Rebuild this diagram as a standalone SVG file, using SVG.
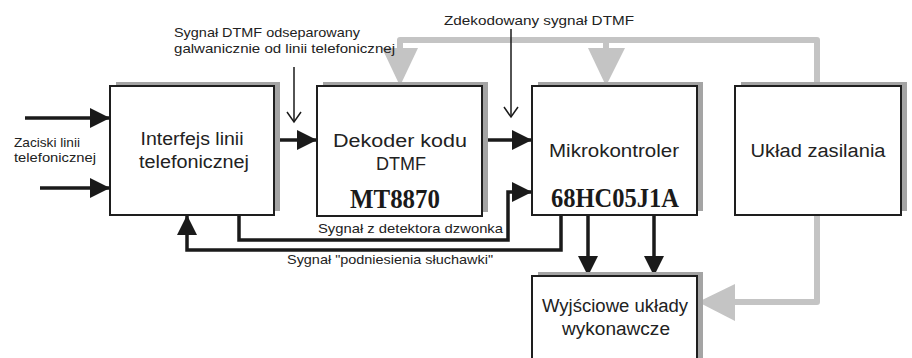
<svg xmlns="http://www.w3.org/2000/svg" width="912" height="358" viewBox="0 0 912 358">
  <style>
    .box { fill: #ffffff; stroke: #1e1e1e; stroke-width: 2; }
    .shadow { fill: #a4a4a4; }
    .wire { fill: none; stroke: #1a1a1a; stroke-width: 3.5; }
    .thin { fill: none; stroke: #1a1a1a; stroke-width: 1.5; }
    .power { fill: none; stroke: #c4c4c4; stroke-width: 6; stroke-linejoin: round; }
    .powerhead { fill: #c4c4c4; }
    .head { fill: #1a1a1a; }
    .title { font-family: "Liberation Sans", Arial, sans-serif; font-size: 18px; fill: #222222; text-anchor: middle; }
    .chip { font-family: "Liberation Serif", "Times New Roman", serif; font-weight: bold; font-size: 27px; fill: #1a1a1a; text-anchor: middle; }
    .label { font-family: "Liberation Sans", Arial, sans-serif; font-size: 13px; fill: #222222; }
  </style>
  <defs>
    <marker id="arrow" markerUnits="userSpaceOnUse" markerWidth="20" markerHeight="20" refX="20" refY="10" orient="auto">
      <path d="M0,0 L20,10 L0,20 Z" class="head"/>
    </marker>
    <marker id="open" markerUnits="userSpaceOnUse" markerWidth="16" markerHeight="16" refX="11" refY="8" orient="auto">
      <path d="M1,1 L11,8 L1,15" fill="none" stroke="#1a1a1a" stroke-width="1.5"/>
    </marker>
  </defs>

  <!-- connectors -->
  <g id="connectors">
    <!-- power distribution (grey) -->
    <path class="power" d="M817,86 V40 H400 V50"/>
    <path class="power" d="M606,40 V50"/>
    <polygon class="powerhead" points="382,48 418,48 400,86"/>
    <polygon class="powerhead" points="588,48 625,48 606,86"/>
    <path class="power" d="M817,215 V302 H733"/>
    <polygon class="powerhead" points="735,284 735,321 698,302"/>

    <!-- line terminals -->
    <path class="wire" d="M25,118 H110" marker-end="url(#arrow)"/>
    <path class="wire" d="M40,188 H110" marker-end="url(#arrow)"/>

    <!-- signal chain -->
    <path class="wire" d="M274,140 H317" marker-end="url(#arrow)"/>
    <path class="wire" d="M482,140 H532" marker-end="url(#arrow)"/>

    <!-- ring detector -->
    <path class="wire" d="M239,215 V240 H508 V192 H532" marker-end="url(#arrow)"/>
    <!-- off-hook -->
    <path class="wire" d="M561,215 V250 H187 V215" marker-end="url(#arrow)"/>

    <!-- outputs -->
    <path class="wire" d="M588,215 V276" marker-end="url(#arrow)"/>
    <path class="wire" d="M654,215 V276" marker-end="url(#arrow)"/>

    <!-- annotation pointers -->
    <path class="thin" d="M294,67 V122" marker-end="url(#open)"/>
    <path class="thin" d="M511,29 V117" marker-end="url(#open)"/>
  </g>

  <!-- nodes -->
  <g id="interface">
    <rect class="shadow" x="116" y="82" width="164" height="129"/>
    <rect class="box" x="110" y="86" width="164" height="129"/>
    <text class="title" x="192" y="145" textLength="103" lengthAdjust="spacingAndGlyphs">Interfejs linii</text>
    <text class="title" x="194" y="168" textLength="110" lengthAdjust="spacingAndGlyphs">telefonicznej</text>
  </g>

  <g id="decoder">
    <rect class="shadow" x="323" y="82" width="165" height="130"/>
    <rect class="box" x="317" y="86" width="165" height="130"/>
    <text class="title" x="400" y="147" textLength="134" lengthAdjust="spacingAndGlyphs">Dekoder kodu</text>
    <text class="title" x="401" y="170" textLength="50" lengthAdjust="spacingAndGlyphs">DTMF</text>
    <text class="chip" x="395" y="208" textLength="90" lengthAdjust="spacingAndGlyphs">MT8870</text>
  </g>

  <g id="mcu">
    <rect class="shadow" x="538" y="82" width="165" height="129"/>
    <rect class="box" x="532" y="86" width="165" height="129"/>
    <text class="title" x="614" y="157" textLength="130" lengthAdjust="spacingAndGlyphs">Mikrokontroler</text>
    <text class="chip" x="615" y="207" textLength="128" lengthAdjust="spacingAndGlyphs">68HC05J1A</text>
  </g>

  <g id="power-supply">
    <rect class="shadow" x="741" y="82" width="166" height="129"/>
    <rect class="box" x="735" y="86" width="166" height="129"/>
    <text class="title" x="818" y="157" textLength="135" lengthAdjust="spacingAndGlyphs">Układ zasilania</text>
  </g>

  <g id="outputs">
    <rect class="shadow" x="538" y="272" width="165" height="100"/>
    <rect class="box" x="532" y="276" width="165" height="100"/>
    <text class="title" x="615" y="312" textLength="146" lengthAdjust="spacingAndGlyphs">Wyjściowe układy</text>
    <text class="title" x="616" y="335" textLength="108" lengthAdjust="spacingAndGlyphs">wykonawcze</text>
  </g>

  <!-- free labels -->
  <g id="labels">
    <text class="label" x="14" y="147" textLength="66" lengthAdjust="spacingAndGlyphs">Zaciski linii</text>
    <text class="label" x="14" y="162" textLength="82" lengthAdjust="spacingAndGlyphs">telefonicznej</text>
    <text class="label" x="174" y="37" textLength="186" lengthAdjust="spacingAndGlyphs">Sygnał DTMF odseparowany</text>
    <text class="label" x="174" y="53" textLength="221" lengthAdjust="spacingAndGlyphs">galwanicznie od linii telefonicznej</text>
    <text class="label" x="444" y="25" textLength="190" lengthAdjust="spacingAndGlyphs">Zdekodowany sygnał DTMF</text>
    <text class="label" x="318" y="233" textLength="185" lengthAdjust="spacingAndGlyphs">Sygnał z detektora dzwonka</text>
    <text class="label" x="287" y="264" textLength="206" lengthAdjust="spacingAndGlyphs">Sygnał "podniesienia słuchawki"</text>
  </g>
</svg>
